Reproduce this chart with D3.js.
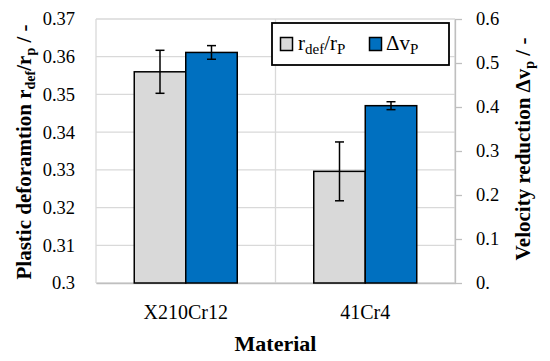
<!DOCTYPE html>
<html><head><meta charset="utf-8">
<script src="https://cdn.jsdelivr.net/npm/d3@7"></script>
<style>body{margin:0;background:#fff}svg{display:block}</style>
</head><body><div id="c"></div>
<script>
const categories = ["X210Cr12", "41Cr4"];
const seriesNames = ["rdef", "dv"];
const rdefValues = [0.356, 0.3296];
const rdefErrors = [0.0057, 0.0078];
const dvValues = [0.524, 0.403];
const dvErrors = [0.0155, 0.009];
const leftTicks = [0.3, 0.31, 0.32, 0.33, 0.34, 0.35, 0.36, 0.37];
const leftTickLabels = ["0.3", "0.31", "0.32", "0.33", "0.34", "0.35", "0.36", "0.37"];
const rightTicks = [0, 0.1, 0.2, 0.3, 0.4, 0.5, 0.6];
const rightTickLabels = ["0.", "0.1", "0.2", "0.3", "0.4", "0.5", "0.6"];

const FONT = "Liberation Serif";
const W = 550, H = 361;
const L = 96, R = 455, T = 19, B = 283;
const svg = d3.select("#c").append("svg").attr("width", W).attr("height", H)
  .attr("font-family", FONT);

const x = d3.scaleBand().domain(categories).range([L, R]).padding(0);
const bw = x.bandwidth();
const x1 = d3.scaleBand().domain(seriesNames).range([bw/2 - 51.5, bw/2 + 51.5]).padding(0);
const yL = d3.scaleLinear().domain([0.3, 0.37]).range([B, T]);
const yR = d3.scaleLinear().domain([0, 0.6]).range([B, T]);

const grid = "#d9d9d9";
svg.append("g").selectAll("line").data(leftTicks).join("line")
  .attr("x1", L).attr("x2", R).attr("y1", d => yL(d)).attr("y2", d => yL(d))
  .attr("stroke", grid).attr("stroke-width", 1.3);
const bounds = [L].concat(categories.map(c => x(c) + bw));
svg.append("g").selectAll("line").data(bounds).join("line")
  .attr("x1", d => d).attr("x2", d => d).attr("y1", T).attr("y2", B)
  .attr("stroke", grid).attr("stroke-width", 1.3);

function styleAxis(g, size) {
  g.attr("font-family", FONT).attr("font-size", size);
  g.selectAll("text").attr("font-family", FONT).attr("font-size", size).attr("fill", "#000");
}

const gl = svg.append("g").attr("transform", `translate(${L},0)`)
  .call(d3.axisLeft(yL).tickValues(leftTicks).tickFormat((d, i) => leftTickLabels[i]).tickSize(0).tickPadding(21));
gl.select(".domain").remove();
styleAxis(gl, 18.5);

const gr = svg.append("g").attr("transform", `translate(${R},0)`)
  .call(d3.axisRight(yR).tickValues(rightTicks).tickFormat((d, i) => rightTickLabels[i]).tickSize(7).tickSizeOuter(0).tickPadding(14));
gr.select(".domain").attr("stroke", "#bfbfbf").attr("stroke-width", 1.3);
gr.selectAll(".tick line").attr("stroke", "#bfbfbf").attr("stroke-width", 1.3);
styleAxis(gr, 18.5);

const gb = svg.append("g").attr("transform", `translate(0,${B})`)
  .call(d3.axisBottom(x).tickSize(0).tickPadding(22));
gb.select(".domain").attr("stroke", "#bfbfbf").attr("stroke-width", 1.5);
styleAxis(gb, 20);

const data = categories.map((c, i) => [
  {c, s: "rdef", v: rdefValues[i], e: rdefErrors[i], y: yL, fill: "#d9d9d9"},
  {c, s: "dv", v: dvValues[i], e: dvErrors[i], y: yR, fill: "#0070c0"}
]).flat();

svg.append("g").selectAll("rect").data(data).join("rect")
  .attr("x", d => x(d.c) + x1(d.s)).attr("width", x1.bandwidth())
  .attr("y", d => d.y(d.v)).attr("height", d => B - d.y(d.v))
  .attr("fill", d => d.fill).attr("stroke", "#000").attr("stroke-width", 1.5);

const eg = svg.append("g").attr("stroke", "#000").attr("stroke-width", 1.5);
data.forEach(d => {
  const cx = x(d.c) + x1(d.s) + x1.bandwidth()/2;
  const y1 = d.y(d.v + d.e), y2 = d.y(d.v - d.e);
  eg.append("line").attr("x1", cx).attr("x2", cx).attr("y1", y1).attr("y2", y2);
  eg.append("line").attr("x1", cx - 4.5).attr("x2", cx + 4.5).attr("y1", y1).attr("y2", y1);
  eg.append("line").attr("x1", cx - 4.5).attr("x2", cx + 4.5).attr("y1", y2).attr("y2", y2);
});

const lg = svg.append("g");
lg.append("rect").attr("x", 272).attr("y", 23).attr("width", 177).attr("height", 42)
  .attr("fill", "#fff").attr("stroke", "#000").attr("stroke-width", 1.8);
lg.append("rect").attr("x", 280.5).attr("y", 37.5).attr("width", 12).attr("height", 13)
  .attr("fill", "#d9d9d9").attr("stroke", "#000").attr("stroke-width", 1.5);
lg.append("rect").attr("x", 369.5).attr("y", 37.5).attr("width", 12).attr("height", 13)
  .attr("fill", "#0070c0").attr("stroke", "#000").attr("stroke-width", 1.5);
const t1 = lg.append("text").attr("x", 298).attr("y", 50).attr("font-family", FONT).attr("font-size", 21);
t1.append("tspan").text("r");
t1.append("tspan").attr("dy", 4).attr("font-size", 15).text("def");
t1.append("tspan").attr("dy", -4).text("/r");
t1.append("tspan").attr("dy", 4).attr("font-size", 15).text("P");
const t2 = lg.append("text").attr("x", 386).attr("y", 50).attr("font-family", FONT).attr("font-size", 21);
t2.append("tspan").text("Δv");
t2.append("tspan").attr("dy", 4).attr("font-size", 15).text("P");

svg.append("text").attr("x", (L + R)/2).attr("y", 351).attr("text-anchor", "middle")
  .attr("font-family", FONT).attr("font-size", 22).attr("font-weight", "bold").text("Material");

const lt = svg.append("text").attr("transform", "translate(31,152) rotate(-90)").attr("text-anchor", "middle")
  .attr("font-family", FONT).attr("font-size", 21).attr("font-weight", "bold");
lt.append("tspan").text("Plastic deforamtion r");
lt.append("tspan").attr("dy", 4).attr("font-size", 14).text("def");
lt.append("tspan").attr("dy", -4).text("/r");
lt.append("tspan").attr("dy", 4).attr("font-size", 14).text("p");
lt.append("tspan").attr("dy", -4).text(" / -");

const rt = svg.append("text").attr("transform", "translate(530,149) rotate(-90)").attr("text-anchor", "middle")
  .attr("font-family", FONT).attr("font-size", 21).attr("font-weight", "bold");
rt.append("tspan").text("Velocity reduction Δv");
rt.append("tspan").attr("dy", 4).attr("font-size", 14).text("p");
rt.append("tspan").attr("dy", -4).text(" / -");
</script></body></html>
